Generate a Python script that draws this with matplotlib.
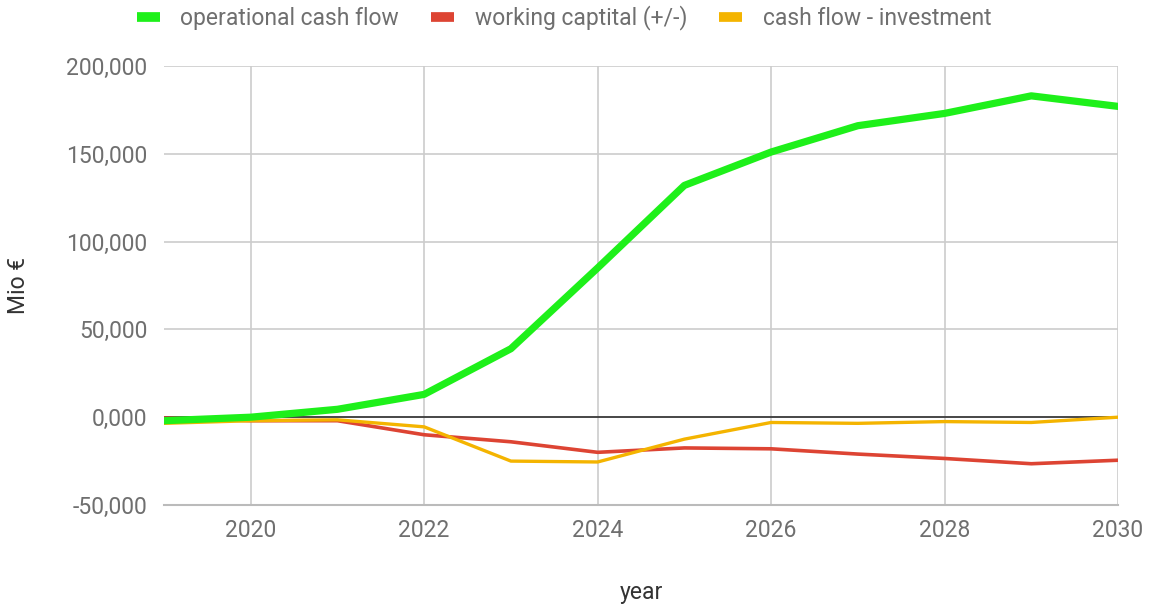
import matplotlib.pyplot as plt
from matplotlib.lines import Line2D

plt.rcParams['font.family'] = ['Roboto', 'DejaVu Sans']

years = [2019, 2020, 2021, 2022, 2023, 2024, 2025, 2026, 2027, 2028, 2029, 2030]
operational = [-2000, 0, 4500, 13000, 39000, 85000, 132000, 151000, 166000, 173000, 183000, 177000]
working_cap = [-500, -2000, -2000, -10000, -14000, -20000, -17500, -18000, -21000, -23500, -26500, -24500]
cf_invest = [-3500, -2000, -1500, -5500, -25000, -25500, -12500, -3000, -3500, -2500, -3000, 0]

series_names = ["operational cash flow", "working captital (+/-)", "cash flow - investment"]
series_colors = ["#1ef01a", "#dd4433", "#f4b400"]

yticks = [-50000, 0, 50000, 100000, 150000, 200000]
ytick_labels = ["-50,000", "0,000", "50,000", "100,000", "150,000", "200,000"]
xticks = [2020, 2022, 2024, 2026, 2028, 2030]

text_col = "#6f6f6f"

fig = plt.figure(figsize=(11.58, 6.05), dpi=100)
ax = fig.add_axes([164 / 1158, 1 - 505 / 605, (1118 - 164) / 1158, (505 - 66) / 605])

ax.plot(years, operational, color=series_colors[0], lw=5.2, solid_joinstyle="round", zorder=4)
ax.plot(years, working_cap, color=series_colors[1], lw=2.6, zorder=3)
ax.plot(years, cf_invest, color=series_colors[2], lw=2.4, zorder=3.5)

ax.axhline(0, color="#222222", lw=1.1, zorder=2)

ax.set_xlim(2019, 2030)
ax.set_ylim(-50000, 200000)
ax.set_yticks(yticks)
ax.set_yticklabels(ytick_labels)
ax.set_xticks(xticks)
ax.grid(True, color="#cccccc", lw=1.2, zorder=0)
ax.set_axisbelow(True)
for s in ["top", "left", "right"]:
    ax.spines[s].set_visible(False)
ax.spines["bottom"].set_color("#bbbbbb")
ax.spines["bottom"].set_linewidth(1.5)
ax.tick_params(length=0, labelsize=16.5, colors=text_col)
ax.tick_params(axis="y", pad=12)
ax.tick_params(axis="x", pad=10)

ax.set_xlabel("year", fontsize=16.5, color="#333333", labelpad=28)
ax.set_ylabel("Mio €", fontsize=16.5, color="#333333", labelpad=26)

handles = [Line2D([0], [0], color=c, lw=7, solid_capstyle="butt") for c in series_colors]
fig.legend(handles, series_names, loc="upper center", bbox_to_anchor=(0.487, 1.025), ncol=3,
           frameon=False, fontsize=16.5, labelcolor=text_col, handlelength=1.0,
           handletextpad=0.9, columnspacing=1.4)

fig.savefig("out.png", dpi=100)
